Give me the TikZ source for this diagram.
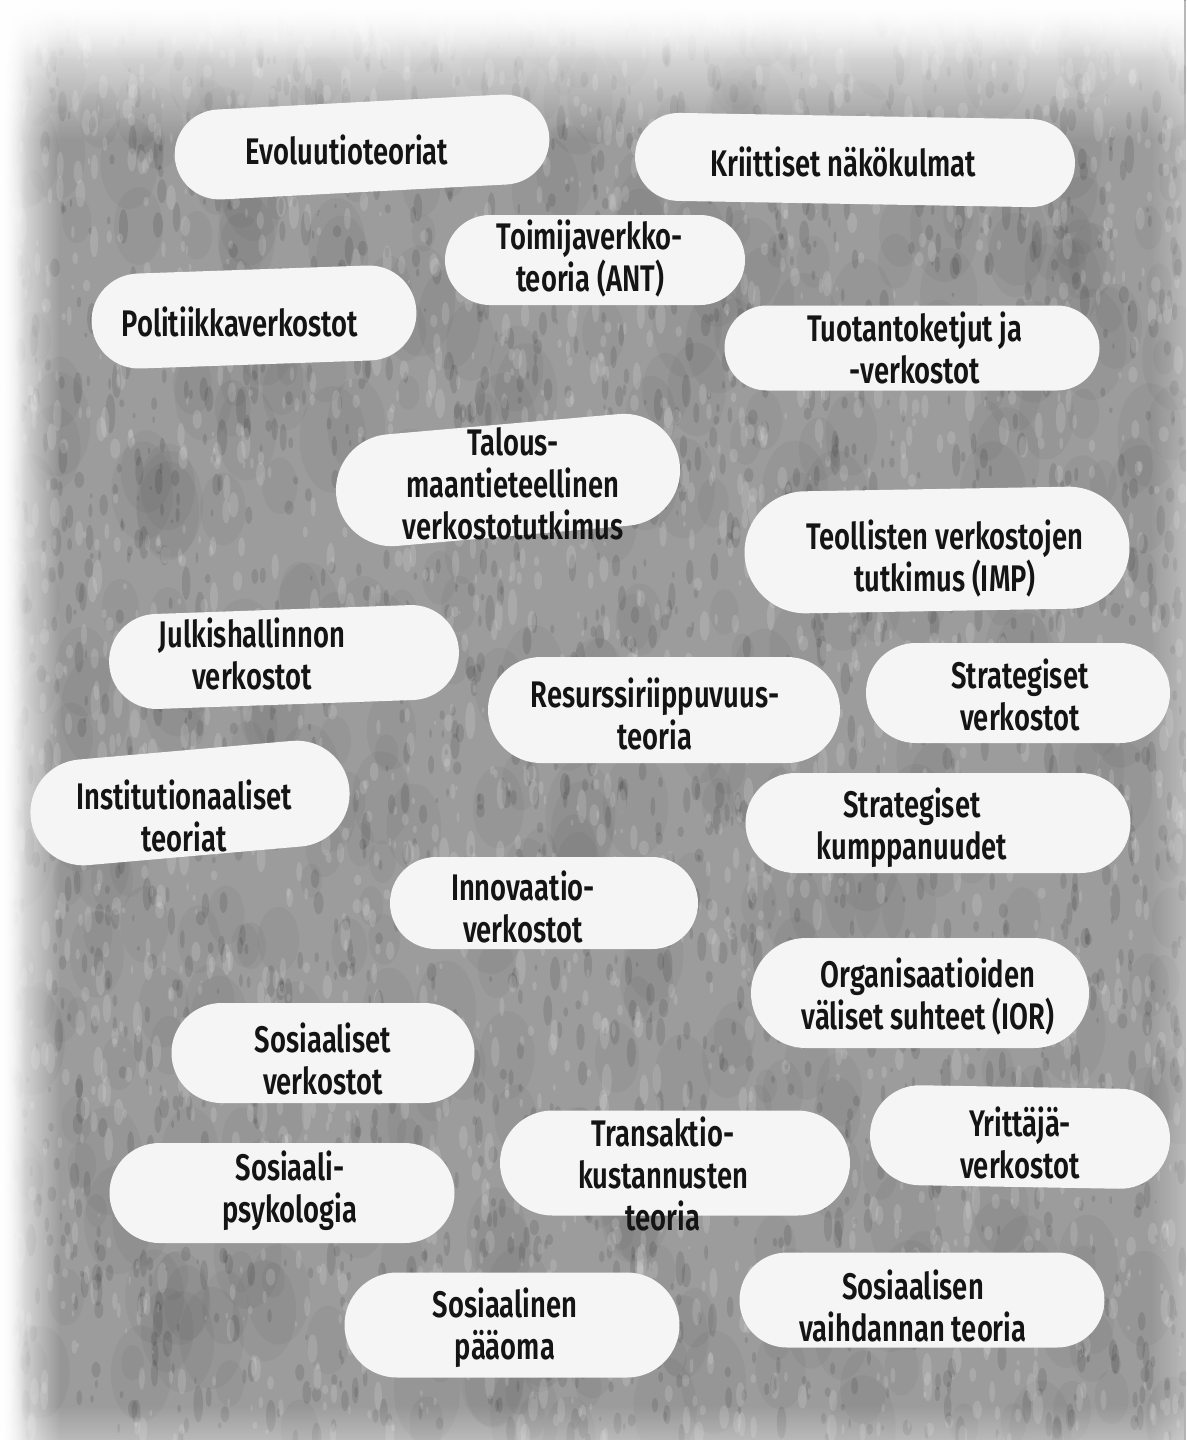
\documentclass[tikz,border=0pt]{standalone}
\usepackage{fontspec}
\usetikzlibrary{fadings,shapes.misc}
\newfontfamily\blobfont{Fira Sans}[UprightFont=* SemiBold, FakeStretch=0.74]
\definecolor{bgcol}{RGB}{156,156,156}
\definecolor{blobcol}{RGB}{245,245,245}
\definecolor{txtcol}{RGB}{20,20,20}
\tikzfading[name=fadeS, top color=transparent!0, bottom color=transparent!100]
\tikzfading[name=fadeE, left color=transparent!0, right color=transparent!100]
\tikzfading[name=fadeW, left color=transparent!100, right color=transparent!0]
\tikzfading[name=fadeN, top color=transparent!100, bottom color=transparent!0]
\begin{document}
\begin{tikzpicture}[x=1pt,y=-1pt,
  blob/.style={rounded rectangle, fill=blobcol, draw=none, inner sep=0pt},
  lbl/.style={align=center, text=txtcol, inner sep=0pt,
    font=\blobfont\fontsize{37}{42}\selectfont}]
\useasboundingbox (0,0) rectangle (1186,1440);
% ---------- textured background ----------
\begin{scope}
\clip (0,0) rectangle (1186,1440);
\fill[bgcol] (0,0) rectangle (1186,1440);
\pgfmathsetseed{4242}
\foreach \i in {1,...,500}{
  \pgfmathsetmacro\px{rnd*1186}
  \pgfmathsetmacro\py{rnd*1440}
  \pgfmathsetmacro\rr{10+rnd*25}
  \fill[black,opacity=0.035] (\px,\py) ellipse [x radius=\rr, y radius=1.6*\rr];
}
\foreach \i in {1,...,2200}{
  \pgfmathsetmacro\px{rnd*1186}
  \pgfmathsetmacro\py{rnd*1440}
  \pgfmathsetmacro\rr{1+rnd*4}
  \pgfmathsetmacro\ry{\rr*(1.5+rnd*2.5)}
  \fill[black,opacity=0.10] (\px,\py) ellipse [x radius=\rr, y radius=\ry];
}
\foreach \i in {1,...,2200}{
  \pgfmathsetmacro\px{rnd*1186}
  \pgfmathsetmacro\py{rnd*1440}
  \pgfmathsetmacro\rr{1+rnd*4}
  \pgfmathsetmacro\ry{\rr*(1.5+rnd*2.5)}
  \fill[white,opacity=0.14] (\px,\py) ellipse [x radius=\rr, y radius=\ry];
}
\fill[white, path fading=fadeS] (0,0) rectangle (1186,140);
\fill[white, path fading=fadeS] (0,0) rectangle (1186,60);
\fill[white, path fading=fadeE] (0,0) rectangle (60,1440);
\fill[white, path fading=fadeE] (0,0) rectangle (25,1440);
\fill[white, opacity=0.3, path fading=fadeW] (1150,0) rectangle (1186,1440);
\fill[white, opacity=0.3, path fading=fadeN] (0,1405) rectangle (1186,1440);
\end{scope}
% ---------- brush-stroke blobs ----------
\node[blob, minimum width=375pt, minimum height=90pt, rotate=3] (b1) at (362,147) {};
\node[blob, minimum width=440pt, minimum height=88pt, rotate=-1] (b2) at (855,160) {};
\node[blob, minimum width=300pt, minimum height=90pt] (b3) at (595,260) {};
\node[blob, minimum width=325pt, minimum height=95pt, rotate=2] (b4) at (254,317) {};
\node[blob, minimum width=375pt, minimum height=85pt] (b5) at (912,348) {};
\node[blob, minimum width=345pt, minimum height=112pt, rotate=5] (b6) at (508,480) {};
\node[blob, minimum width=385pt, minimum height=122pt, rotate=1] (b7) at (937,550) {};
\node[blob, minimum width=350pt, minimum height=95pt, rotate=2] (b8) at (284,657) {};
\node[blob, minimum width=352pt, minimum height=106pt] (b9) at (664,710) {};
\node[blob, minimum width=304pt, minimum height=100pt] (b10) at (1018,693) {};
\node[blob, minimum width=320pt, minimum height=106pt, rotate=5] (b11) at (190,803) {};
\node[blob, minimum width=385pt, minimum height=100pt] (b12) at (938,823) {};
\node[blob, minimum width=308pt, minimum height=92pt] (b13) at (544,903) {};
\node[blob, minimum width=338pt, minimum height=110pt] (b14) at (920,993) {};
\node[blob, minimum width=303pt, minimum height=100pt] (b15) at (323,1053) {};
\node[blob, minimum width=350pt, minimum height=105pt] (b16) at (675,1163) {};
\node[blob, minimum width=300pt, minimum height=100pt, rotate=-1] (b17) at (1020,1137) {};
\node[blob, minimum width=345pt, minimum height=100pt] (b18) at (282,1193) {};
\node[blob, minimum width=335pt, minimum height=105pt] (b19) at (512,1325) {};
\node[blob, minimum width=365pt, minimum height=95pt] (b20) at (922,1300) {};
% ---------- labels ----------
\node[lbl] (t1) at (347,150) {Evoluutioteoriat};
\node[lbl] (t2) at (843,162) {Kriittiset näkökulmat};
\node[lbl] (t3) at (590,259) {Toimijaverkko-\\teoria (ANT)};
\node[lbl] (t4) at (240,322) {Politiikkaverkostot};
\node[lbl] (t5) at (915,348) {Tuotantoketjut ja\\-verkostot};
\node[lbl] (t6) at (513,484) {Talous-\\maantieteellinen\\verkostotutkimus};
\node[lbl] (t7) at (945,559) {Teollisten verkostojen\\tutkimus (IMP)};
\node[lbl] (t8) at (252,654) {Julkishallinnon\\verkostot};
\node[lbl] (t9) at (655,714) {Resurssiriippuvuus-\\teoria};
\node[lbl] (t10) at (1020,695) {Strategiset\\verkostot};
\node[lbl] (t11) at (184,816) {Institutionaaliset\\teoriat};
\node[lbl] (t12) at (912,828) {Strategiset\\kumppanuudet};
\node[lbl] (t13) at (523,907) {Innovaatio-\\verkostot};
\node[lbl] (t14) at (928,996) {Organisaatioiden\\väliset suhteet (IOR)};
\node[lbl] (t15) at (323,1059) {Sosiaaliset\\verkostot};
\node[lbl] (t16) at (663,1174) {Transaktio-\\kustannusten\\teoria};
\node[lbl] (t17) at (1020,1143) {Yrittäjä-\\verkostot};
\node[lbl] (t18) at (290,1191) {Sosiaali-\\psykologia};
\node[lbl] (t19) at (505,1328) {Sosiaalinen\\pääoma};
\node[lbl] (t20) at (913,1306) {Sosiaalisen\\vaihdannan teoria};
\end{tikzpicture}
\end{document}
